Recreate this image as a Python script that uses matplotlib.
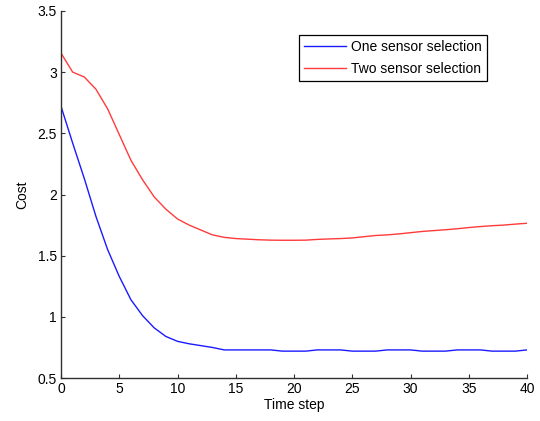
import matplotlib
matplotlib.use("Agg")
import matplotlib.pyplot as plt

time_steps = list(range(0, 41))
one_sensor = [2.72, 2.42, 2.13, 1.82, 1.55, 1.33, 1.14, 1.01, 0.91, 0.84, 0.80,
              0.78, 0.765, 0.75, 0.73, 0.73, 0.73, 0.73, 0.73, 0.72, 0.72,
              0.72, 0.73, 0.73, 0.73, 0.72, 0.72, 0.72, 0.73, 0.73, 0.73,
              0.72, 0.72, 0.72, 0.73, 0.73, 0.73, 0.72, 0.72, 0.72, 0.73]
two_sensor = [3.155, 3.00, 2.96, 2.86, 2.70, 2.49, 2.28, 2.12, 1.98, 1.88, 1.80,
              1.75, 1.71, 1.67, 1.65, 1.64, 1.635, 1.63, 1.627, 1.626, 1.626,
              1.627, 1.633, 1.637, 1.64, 1.645, 1.655, 1.665, 1.67, 1.678, 1.688,
              1.698, 1.705, 1.712, 1.72, 1.73, 1.738, 1.745, 1.75, 1.758, 1.765]
labels = ["One sensor selection", "Two sensor selection"]
x_ticks = [0, 5, 10, 15, 20, 25, 30, 35, 40]
y_ticks = [0.5, 1, 1.5, 2, 2.5, 3, 3.5]

plt.rcParams['font.family'] = ['Liberation Sans', 'DejaVu Sans']
fig = plt.figure(figsize=(5.4, 4.21), dpi=100)
ax = fig.add_axes([0.113, 0.102, 0.863, 0.872])
ax.plot(time_steps, one_sensor, color='#1a1aff', lw=1.0, label=labels[0])
ax.plot(time_steps, two_sensor, color='#ff3b3b', lw=1.0, label=labels[1])
ax.set_xlim(0, 40)
ax.set_ylim(0.5, 3.5)
ax.set_xticks(x_ticks)
ax.set_yticks(y_ticks)
ax.set_yticklabels(["0.5", "1", "1.5", "2", "2.5", "3", "3.5"])
ax.spines['top'].set_visible(False)
ax.spines['right'].set_visible(False)
for s in ['left', 'bottom']:
    ax.spines[s].set_color('#303030')
    ax.spines[s].set_linewidth(1.0)
ax.tick_params(direction='in', length=3, labelsize=10, color='#303030', pad=3)
ax.set_xlabel("Time step", fontsize=10, labelpad=1)
ax.set_ylabel("Cost", fontsize=10, labelpad=6)
leg = ax.legend(loc='upper left', bbox_to_anchor=(299/540, 1 - 35/421),
                bbox_transform=fig.transFigure, fontsize=10, fancybox=False,
                framealpha=1, edgecolor='black', borderpad=0.36, labelspacing=0.55,
                handlelength=3.0, handletextpad=0.4, borderaxespad=0)
leg.get_frame().set_linewidth(0.9)
fig.savefig("out.png", dpi=100)
